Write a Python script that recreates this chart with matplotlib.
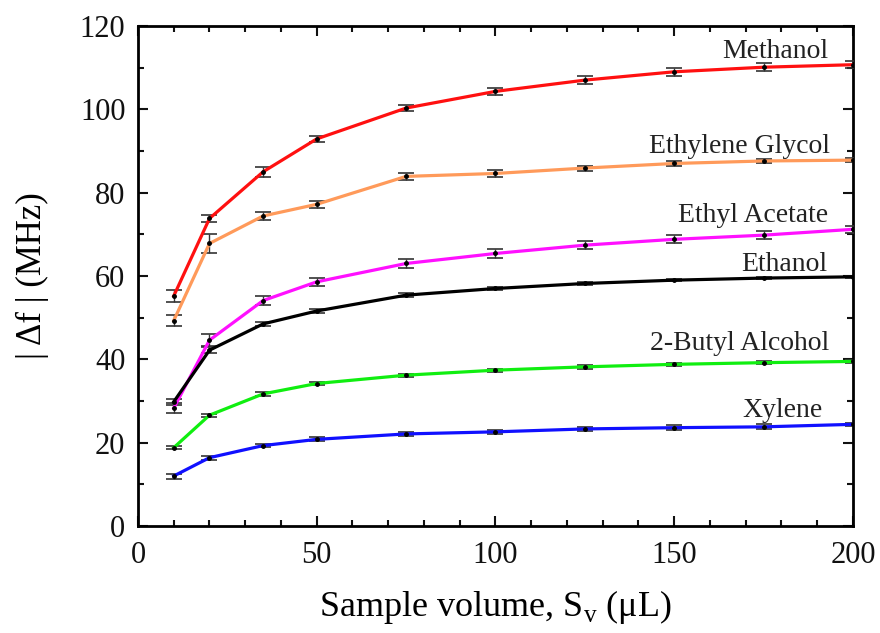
import numpy as np
import matplotlib
matplotlib.use("Agg")
import matplotlib.pyplot as plt
from matplotlib.ticker import MultipleLocator

## sample volumes (uL)
volume = [10, 20, 35, 50, 75, 100, 125, 150, 175, 200]

## |delta f| (MHz) per solvent, with error half-widths
methanol = [55.2, 73.8, 85.0, 92.9, 100.3, 104.3, 107.0, 109.0, 110.1, 110.7]
methanol_err = [1.5, 0.8, 1.2, 0.8, 0.8, 0.8, 0.9, 0.9, 0.9, 0.9]
glycol = [49.3, 67.8, 74.4, 77.2, 83.9, 84.6, 85.9, 87.0, 87.6, 87.8]
glycol_err = [1.3, 2.3, 1.0, 0.9, 0.8, 0.8, 0.6, 0.6, 0.5, 0.5]
acetate = [28.3, 44.6, 54.1, 58.6, 63.0, 65.4, 67.4, 68.8, 69.8, 71.2]
acetate_err = [1.2, 1.5, 1.0, 0.9, 1.0, 1.0, 1.0, 1.0, 1.0, 0.8]
ethanol = [29.8, 42.2, 48.5, 51.6, 55.4, 57.0, 58.2, 59.0, 59.5, 59.8]
ethanol_err = [0.8, 0.8, 0.5, 0.4, 0.4, 0.3, 0.3, 0.3, 0.3, 0.3]
butyl = [18.8, 26.6, 31.7, 34.2, 36.2, 37.4, 38.2, 38.8, 39.2, 39.5]
butyl_err = [0.4, 0.4, 0.4, 0.3, 0.4, 0.4, 0.4, 0.4, 0.3, 0.3]
xylene = [12.0, 16.4, 19.3, 20.8, 22.1, 22.6, 23.3, 23.6, 23.8, 24.4]
xylene_err = [0.6, 0.5, 0.4, 0.5, 0.4, 0.5, 0.5, 0.6, 0.6, 0.4]

names = ["Methanol", "Ethylene Glycol", "Ethyl Acetate", "Ethanol",
         "2-Butyl Alcohol", "Xylene"]
series = [methanol, glycol, acetate, ethanol, butyl, xylene]
errors = [methanol_err, glycol_err, acetate_err, ethanol_err, butyl_err, xylene_err]
colors = ["#ff1010", "#ff9a5a", "#ff10ff", "#000000", "#10ee10", "#1010ff"]
## label anchor (right edge x, baseline y)
label_pos = [(193, 112.3), (193.5, 89.6), (193, 73.0), (192.7, 61.3),
             (193.5, 42.2), (191.5, 26.2)]

plt.rcParams['font.family'] = ['Liberation Serif', 'DejaVu Serif']
plt.rcParams['mathtext.fontset'] = 'custom'
plt.rcParams['mathtext.rm'] = 'Liberation Serif'

fig = plt.figure(figsize=(8.8, 6.33), dpi=100)
ax = fig.add_axes([0.1568, 0.169, 0.8125, 0.79])

for y, e, c in zip(series, errors, colors):
    ax.errorbar(volume, y, yerr=e, color=c, lw=2.3, marker='o', ms=2.5,
                mfc='black', mec='black', ecolor='#333333', elinewidth=1,
                capsize=6, capthick=1.2, zorder=3)

for name, (lx, ly) in zip(names, label_pos):
    ax.text(lx, ly, name, ha='right', va='baseline', fontsize=20,
            color='#222222')

ax.set_xlim(0, 200)
ax.set_ylim(0, 120)
ax.xaxis.set_major_locator(MultipleLocator(50))
ax.xaxis.set_minor_locator(MultipleLocator(10))
ax.yaxis.set_major_locator(MultipleLocator(20))
ax.yaxis.set_minor_locator(MultipleLocator(10))
ax.tick_params(which='both', direction='in', top=True, right=True,
               width=1.5, labelsize=22, colors='#111111')
ax.tick_params(which='major', length=7)
ax.tick_params(axis='x', which='major', pad=11)
ax.tick_params(axis='y', which='major', pad=9)
ax.tick_params(which='minor', length=4)
for s in ax.spines.values():
    s.set_linewidth(2)

ax.set_xlabel(r"Sample volume, S$_\mathregular{v}$ ($\mathregular{\mu}$L)",
              fontsize=26, labelpad=13)
ax.set_ylabel("| Δf | (MHz)", fontsize=25, labelpad=22)

fig.savefig("out.png", dpi=100)
